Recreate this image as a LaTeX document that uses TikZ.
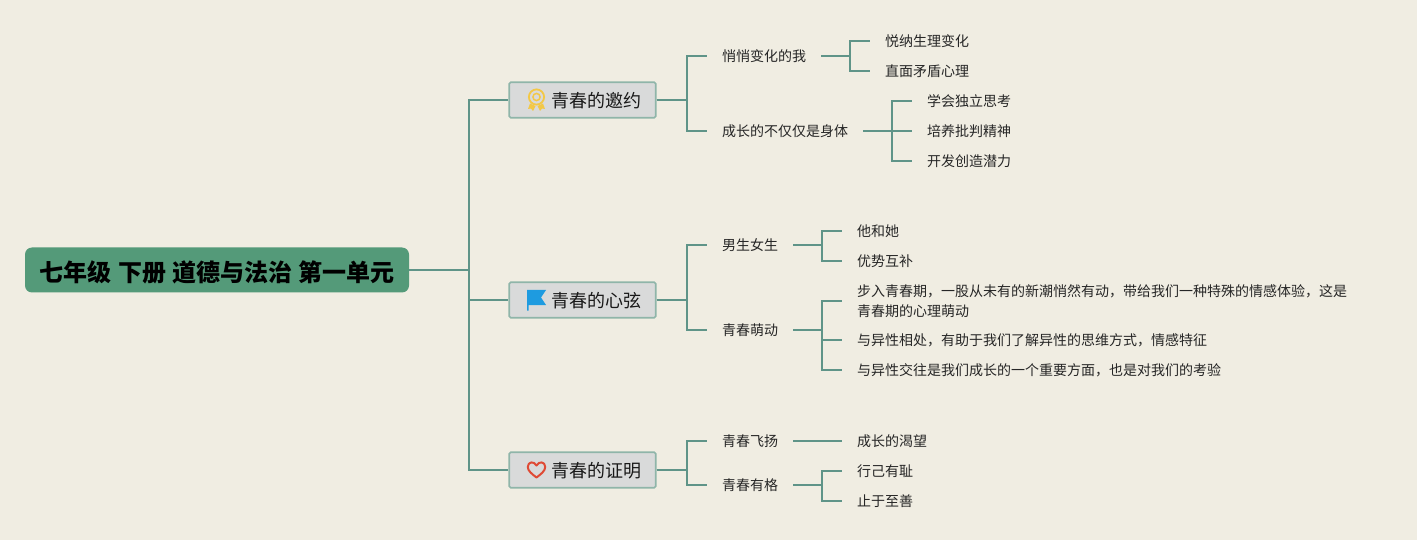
\documentclass[tikz,border=0pt]{standalone}
\usepackage{fontspec}
\setmainfont{Noto Sans CJK SC}
\usepackage{xcolor}
\usetikzlibrary{positioning,calc}
\definecolor{paperbg}{HTML}{F0EDE2}
\definecolor{linkgreen}{HTML}{5F9488}
\definecolor{rootgreen}{HTML}{549A79}
\definecolor{boxfill}{HTML}{D9DADA}
\definecolor{boxline}{HTML}{8FB5A9}
\definecolor{medalgold}{HTML}{F3C846}
\definecolor{flagblue}{HTML}{1E9BE0}
\definecolor{heartred}{HTML}{DF4A35}
\tikzset{
  link/.style={draw=linkgreen,line width=2pt},
  rootbox/.style={fill=rootgreen,rounded corners=7pt,minimum width=384pt,minimum height=45pt,inner sep=0pt,
    text height=22.2pt,text depth=0pt,font=\fontsize{24}{28}\selectfont\bfseries,text=black},
  branchbox/.style={draw=boxline,fill=boxfill,line width=1.6pt,rounded corners=1.5pt,minimum width=146.5pt,minimum height=35.5pt,inner sep=0pt,
    text height=15.6pt,text depth=0pt,font=\fontsize{18}{22}\selectfont,text=black!90},
  childtext/.style={anchor=west,inner xsep=15pt,inner ysep=0pt,font=\fontsize{14}{20}\selectfont,text=black!85},
  oneline/.style={childtext,text height=13pt,text depth=1.4pt},
}
\begin{document}
\begin{tikzpicture}[x=1pt,y=-1pt]
\fill[paperbg] (0,0) rectangle (1417,540);
\useasboundingbox (0,0) rectangle (1417,540);

\node[rootbox] (root) at (217,270) {七年级\hspace{1pt} 下册\hspace{1pt} 道德与法治 第一单元};

\node[branchbox] (invite) at (582.5,100) {\hspace*{28pt}青春的邀约};
\node[branchbox] (string) at (582.5,300) {\hspace*{28pt}青春的心弦};
\node[branchbox] (proof) at (582.5,470) {\hspace*{28pt}青春的证明};

\node[oneline] (quiet) at (707,56) {悄悄变化的我};
\node[oneline] (body) at (707,131) {成长的不仅仅是身体};
\node[oneline] (boygirl) at (707,245) {男生女生};
\node[oneline] (sprout) at (707,330) {青春萌动};
\node[oneline] (fly) at (707,440.5) {青春飞扬};
\node[oneline] (worth) at (707,485) {青春有格};

\node[oneline] (accept) at (870,41) {悦纳生理变化};
\node[oneline] (face) at (870,71) {直面矛盾心理};
\node[oneline] (think) at (912,101) {学会独立思考};
\node[oneline] (critic) at (912,131) {培养批判精神};
\node[oneline] (create) at (912,161) {开发创造潜力};
\node[oneline] (heshe) at (842,231) {他和她};
\node[oneline] (mutual) at (842,261) {优势互补};
\node[childtext,align=left] (feeling) at (842,301) {步入青春期，一股从未有的新潮悄然有动，带给我们一种特殊的情感体验，这是\\青春期的心理萌动};
\node[oneline] (other) at (842,340) {与异性相处，有助于我们了解异性的思维方式，情感特征};
\node[oneline] (test) at (842,370) {与异性交往是我们成长的一个重要方面，也是对我们的考验};
\node[oneline] (desire) at (842,440.5) {成长的渴望};
\node[oneline] (shame) at (842,471) {行己有耻};
\node[oneline] (good) at (842,501) {止于至善};

\draw[link] (root.east) -- ++(60,0) |- (invite.west);
\draw[link] (root.east) -- ++(60,0) |- (string.west);
\draw[link] (root.east) -- ++(60,0) |- (proof.west);

\draw[link] (invite.east) -- ++(30,0) |- (quiet.west);
\draw[link] (invite.east) -- ++(30,0) |- (body.west);
\draw[link] (string.east) -- ++(30,0) |- (boygirl.west);
\draw[link] (string.east) -- ++(30,0) |- (sprout.west);
\draw[link] (proof.east) -- ++(30,0) |- (fly.west);
\draw[link] (proof.east) -- ++(30,0) |- (worth.west);

\draw[link] (quiet.east) -- ++(29,0) |- (accept.west);
\draw[link] (quiet.east) -- ++(29,0) |- (face.west);
\draw[link] (body.east) -- ++(29,0) |- (think.west);
\draw[link] (body.east) -- ++(29,0) |- (critic.west);
\draw[link] (body.east) -- ++(29,0) |- (create.west);
\draw[link] (boygirl.east) -- ++(29,0) |- (heshe.west);
\draw[link] (boygirl.east) -- ++(29,0) |- (mutual.west);
\draw[link] (sprout.east) -- ++(29,0) |- (feeling.west);
\draw[link] (sprout.east) -- ++(29,0) |- (other.west);
\draw[link] (sprout.east) -- ++(29,0) |- (test.west);
\draw[link] (fly.east) -- (desire.west);
\draw[link] (worth.east) -- ++(29,0) |- (shame.west);
\draw[link] (worth.east) -- ++(29,0) |- (good.west);

% Icons
\draw[medalgold,line width=1.8pt] (536.5,97) circle (7.6pt);
\draw[medalgold,line width=1.5pt] (536.5,97) circle (3.6pt);
\fill[medalgold] (530,103.5) -- (535.5,106) -- (533,111) -- (531,108.5) -- (528,109) -- cycle;
\fill[medalgold] (543,103.5) -- (537.5,106) -- (540,111) -- (542,108.5) -- (545,109) -- cycle;

\fill[flagblue] (527,290) -- (546,290) -- (541,297.5) -- (546,305) -- (528.5,305) -- (528.5,310.5) -- (527,310.5) -- cycle;

\draw[heartred,line width=2pt,line join=round] (536.5,477.5) .. controls (532,474) and (527.8,471) .. (527.8,467)
  .. controls (527.8,461.5) and (534,460.8) .. (536.5,465.5)
  .. controls (539,460.8) and (545.2,461.5) .. (545.2,467)
  .. controls (545.2,471) and (541,474) .. (536.5,477.5) -- cycle;
\end{tikzpicture}
\end{document}
